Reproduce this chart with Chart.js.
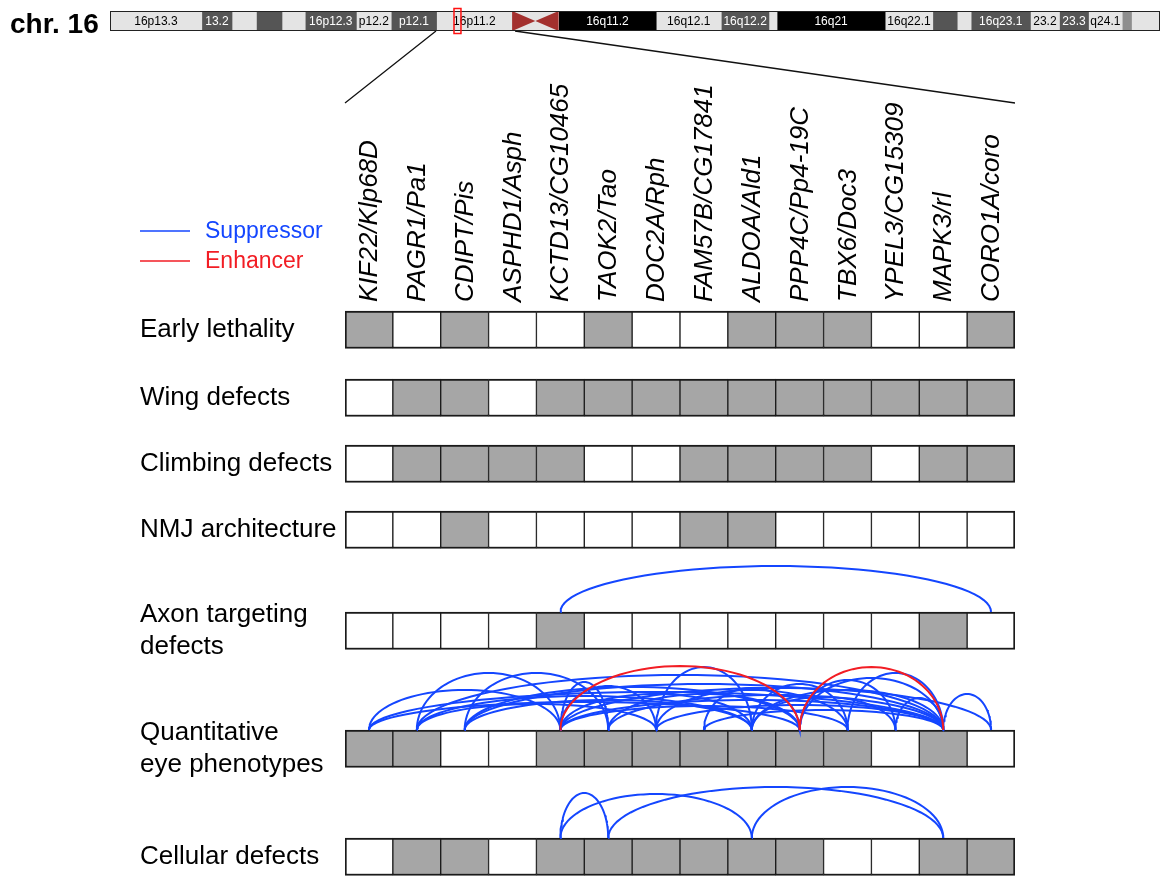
<!DOCTYPE html>
<html>
<head>
<meta charset="utf-8">
<script src="https://cdn.jsdelivr.net/npm/chart.js@4.4.0/dist/chart.umd.min.js"></script>
<style>
    body { margin: 0; background: #fff; }
    #wrap { position: relative; width: 1165px; height: 878px; }
    canvas { position: absolute; left: 0; top: 0; }
</style>
</head>
<body>
<div id="wrap">
    <canvas id="mainChart" width="1165" height="878"></canvas>
    <canvas id="chromChart" width="1165" height="44"></canvas>
</div>
<script>
// genes of the 16p11.2 region (human/fly)
const genes = ['KIF22/Klp68D', 'PAGR1/Pa1', 'CDIPT/Pis', 'ASPHD1/Asph', 'KCTD13/CG10465', 'TAOK2/Tao',
    'DOC2A/Rph', 'FAM57B/CG17841', 'ALDOA/Ald1', 'PPP4C/Pp4-19C', 'TBX6/Doc3', 'YPEL3/CG15309',
    'MAPK3/rl', 'CORO1A/coro'];

const phenotypes = ['Early lethality', 'Wing defects', 'Climbing defects', 'NMJ architecture',
    ['Axon targeting', 'defects'], ['Quantitative', 'eye phenotypes'], 'Cellular defects'];

// 1 = phenotype observed (grey cell)
const earlyLethality = [1, 0, 1, 0, 0, 1, 0, 0, 1, 1, 1, 0, 0, 1];
const wingDefects = [0, 1, 1, 0, 1, 1, 1, 1, 1, 1, 1, 1, 1, 1];
const climbingDefects = [0, 1, 1, 1, 1, 0, 0, 1, 1, 1, 1, 0, 1, 1];
const nmjArchitecture = [0, 0, 1, 0, 0, 0, 0, 1, 1, 0, 0, 0, 0, 0];
const axonTargeting = [0, 0, 0, 0, 1, 0, 0, 0, 0, 0, 0, 0, 1, 0];
const eyePhenotypes = [1, 1, 0, 0, 1, 1, 1, 1, 1, 1, 1, 0, 1, 0];
const cellularDefects = [0, 1, 1, 0, 1, 1, 1, 1, 1, 1, 0, 0, 1, 1];

// interactions: [gene index, gene index, arc height]
const axonSuppressors = [[4, 13, 46]];
const eyeSuppressors = [
    [0, 4, 40], [0, 9, 28], [0, 12, 38],
    [1, 4, 57], [1, 6, 26], [1, 8, 34], [1, 12, 55],
    [2, 5, 57], [2, 8, 30], [2, 9, 43], [2, 12, 46],
    [4, 5, 48], [4, 6, 44], [4, 8, 36], [4, 10, 24], [4, 12, 30], [4, 13, 42],
    [5, 9, 36], [5, 12, 35],
    [6, 8, 63], [6, 10, 40], [6, 12, 25],
    [7, 9, 42], [7, 12, 20],
    [8, 10, 46], [8, 11, 33], [8, 12, 40],
    [9, 11, 50], [9, 12, 52],
    [10, 12, 57], [11, 12, 32], [12, 13, 36]
];
const eyeEnhancers = [[4, 9, 64], [9, 12, 63]];
const cellularSuppressors = [[4, 5, 45], [4, 8, 44], [5, 12, 51], [8, 12, 51]];

// chromosome 16 cytobands (Mb)
const bandNames = ['16p13.3', '13.2', '', '', '', '16p12.3', 'p12.2', 'p12.1', '16p11.2', '',
    '16q11.2', '16q12.1', '16q12.2', '', '16q21', '16q22.1', '', '', '16q23.1', '23.2', '23.3', 'q24.1', '', ''];
const bandStart = [0, 7.9, 10.5, 12.6, 14.8, 16.8, 21.2, 24.2, 28.1, 34.6,
    38.6, 47.0, 52.6, 56.7, 57.4, 66.7, 70.8, 72.9, 74.1, 79.2, 81.7, 84.2, 87.1, 87.9];
const bandEnd = [7.9, 10.5, 12.6, 14.8, 16.8, 21.2, 24.2, 28.1, 34.6, 38.6,
    47.0, 52.6, 56.7, 57.4, 66.7, 70.8, 72.9, 74.1, 79.2, 81.7, 84.2, 87.1, 87.9, 90.35];
const bandStain = ['light', 'dark', 'light', 'dark', 'light', 'dark', 'light', 'dark', 'light', 'acen',
    'black', 'light', 'dark', 'light', 'black', 'light', 'dark', 'light', 'dark', 'light', 'dark', 'light', 'mid', 'light'];
const regionMb = [29.6, 30.2];
const zoomMb = [28.05, 34.85];

// layout
const FONT = '"Liberation Sans", Arial, Helvetica, sans-serif';
const ROW_TOP = [6, 74, 140, 206, 307, 425, 533];
const CELL_H = 37.5;
const GRAY = '#a6a6a6';
const BLUE = '#1446ff';
const RED = '#f21d24';
const STAIN_COLOR = { light: '#e4e4e4', dark: '#555555', black: '#000000', mid: '#8e8e8e', acen: '#e4e4e4' };

const rowValues = [earlyLethality, wingDefects, climbingDefects, nmjArchitecture, axonTargeting, eyePhenotypes, cellularDefects];

function arcDataset(arc, row, color) {
    const a = arc[0], b = arc[1], h = arc[2];
    const cx = (a + b) / 2 + 0.5, rx = (b - a) / 2, base = ROW_TOP[row];
    const pts = [];
    for (let k = 0; k <= 48; k++) {
        const t = Math.PI * k / 48;
        pts.push({ x: cx - rx * Math.cos(t), y: base - h * Math.sin(t) });
    }
    return {
        type: 'line', data: pts, borderColor: color, borderWidth: 2,
        pointRadius: 0, fill: false, tension: 0, order: color === RED ? 0 : 1
    };
}

// chromosome ideogram
const chromPlugin = {
    id: 'chrom',
    afterDatasetsDraw(chart) {
        const ctx = chart.ctx, x = chart.scales.x, area = chart.chartArea;
        const top = area.top, bottom = area.bottom, mid = (top + bottom) / 2;
        ctx.save();
        // centromere
        const ci = bandStain.indexOf('acen');
        const c1 = x.getPixelForValue(bandStart[ci]), c2 = x.getPixelForValue(bandEnd[ci]);
        const cm = (c1 + c2) / 2;
        ctx.fillStyle = '#a3302e';
        ctx.beginPath();
        ctx.moveTo(c1, top); ctx.lineTo(cm, mid); ctx.lineTo(c1, bottom); ctx.closePath();
        ctx.moveTo(c2, top); ctx.lineTo(cm, mid); ctx.lineTo(c2, bottom); ctx.closePath();
        ctx.fill();
        // band names
        ctx.font = '12px ' + FONT;
        ctx.textAlign = 'center';
        ctx.textBaseline = 'middle';
        bandNames.forEach((n, i) => {
            if (!n) return;
            const s = bandStain[i];
            ctx.fillStyle = (s === 'light') ? '#000' : '#fff';
            ctx.fillText(n, (x.getPixelForValue(bandStart[i]) + x.getPixelForValue(bandEnd[i])) / 2, mid + 0.5);
        });
        ctx.strokeStyle = '#222';
        ctx.lineWidth = 1;
        ctx.strokeRect(area.left + 0.5, top + 0.5, area.right - area.left - 1, bottom - top - 1);
        // selected region
        const r1 = x.getPixelForValue(regionMb[0]), r2 = x.getPixelForValue(regionMb[1]);
        ctx.strokeStyle = '#ff1010';
        ctx.lineWidth = 1.5;
        ctx.strokeRect(r1, top - 2.5, r2 - r1, bottom - top + 5);
        ctx.fillStyle = '#000';
        ctx.font = 'bold 28px ' + FONT;
        ctx.textAlign = 'left';
        ctx.textBaseline = 'alphabetic';
        ctx.fillText('chr. 16', 10, 33);
        ctx.restore();
    }
};

const chromChart = new Chart(document.getElementById('chromChart'), {
    type: 'bar',
    data: {
        labels: [''],
        datasets: bandNames.map((n, i) => ({
            data: [[bandStart[i], bandEnd[i]]],
            backgroundColor: STAIN_COLOR[bandStain[i]],
            borderWidth: 0, barPercentage: 1, categoryPercentage: 1, grouped: false
        }))
    },
    options: {
        indexAxis: 'y', responsive: false, animation: false, events: [],
        layout: { padding: { left: 110, right: 5, top: 11, bottom: 13 } },
        plugins: { legend: { display: false }, tooltip: { enabled: false } },
        scales: {
            x: { type: 'linear', min: 0, max: 90.35, display: false },
            y: { display: false }
        }
    },
    plugins: [chromPlugin]
});

// legend + zoom lines
const mainPlugin = {
    id: 'extras',
    afterDraw(chart) {
        const ctx = chart.ctx, x = chart.scales.x;
        ctx.save();
        ctx.lineWidth = 1.5;
        [[BLUE, 'Suppressor', 231], [RED, 'Enhancer', 261]].forEach(([c, t, y]) => {
            ctx.strokeStyle = c;
            ctx.beginPath(); ctx.moveTo(140, y); ctx.lineTo(190, y); ctx.stroke();
            ctx.fillStyle = c;
            ctx.font = '23px ' + FONT;
            ctx.textBaseline = 'middle';
            ctx.fillText(t, 205, y + 1);
        });
        const cx = chromChart.scales.x, cy = chromChart.chartArea.bottom;
        ctx.strokeStyle = '#111';
        ctx.lineWidth = 1.3;
        ctx.beginPath();
        ctx.moveTo(cx.getPixelForValue(zoomMb[0]), cy);
        ctx.lineTo(x.getPixelForValue(0), 103);
        ctx.moveTo(cx.getPixelForValue(zoomMb[1]), cy);
        ctx.lineTo(x.getPixelForValue(genes.length), 103);
        ctx.stroke();
        ctx.restore();
    }
};

const datasets = [];
rowValues.forEach((vals, r) => {
    datasets.push({
        type: 'bar',
        data: vals.map((v, i) => ({ x: i + 0.5, y: [ROW_TOP[r], ROW_TOP[r] + CELL_H] })),
        backgroundColor: vals.map(v => v ? GRAY : '#ffffff'),
        borderColor: '#1a1a1a',
        borderWidth: c => ({ top: 2, bottom: 2, left: c.dataIndex === 0 ? 2 : 1, right: c.dataIndex === genes.length - 1 ? 2 : 1 }),
        borderSkipped: false, barPercentage: 1, categoryPercentage: 1, grouped: false, order: 2
    });
});
axonSuppressors.forEach(a => datasets.push(arcDataset(a, 4, BLUE)));
eyeSuppressors.forEach(a => datasets.push(arcDataset(a, 5, BLUE)));
eyeEnhancers.forEach(a => datasets.push(arcDataset(a, 5, RED)));
cellularSuppressors.forEach(a => datasets.push(arcDataset(a, 6, BLUE)));

new Chart(document.getElementById('mainChart'), {
    type: 'bar',
    data: { datasets: datasets },
    options: {
        responsive: false, animation: false, events: [],
        layout: { padding: { left: 140, right: 150, top: 40, bottom: 0 } },
        plugins: { legend: { display: false }, tooltip: { enabled: false } },
        scales: {
            x: {
                type: 'linear', position: 'top', min: 0, max: genes.length, offset: false,
                grid: { display: false, drawTicks: false }, border: { display: false },
                afterBuildTicks: s => { s.ticks = genes.map((g, i) => ({ value: i + 0.5 })); },
                afterFit: s => { s.height = 265; s.paddingLeft = 0; s.paddingRight = 0; },
                ticks: {
                    autoSkip: false, minRotation: 90, maxRotation: 90, padding: 3, color: '#000',
                    labelOffset: 32,
                    font: { family: FONT, size: 26, style: 'italic' },
                    callback: (v, i) => genes[i]
                }
            },
            y: {
                type: 'linear', reverse: true, min: 0, max: 573,
                grid: { display: false, drawTicks: false }, border: { display: false },
                afterBuildTicks: s => { s.ticks = ROW_TOP.map(t => ({ value: t + CELL_H / 2 })); },
                afterFit: s => { s.width = 205; s.paddingTop = 0; s.paddingBottom = 0; },
                ticks: {
                    crossAlign: 'far', color: '#000',
                    font: { family: FONT, size: 26, lineHeight: 1.2 },
                    callback: (v, i) => phenotypes[i]
                }
            }
        }
    },
    plugins: [mainPlugin]
});
</script>
</body>
</html>
